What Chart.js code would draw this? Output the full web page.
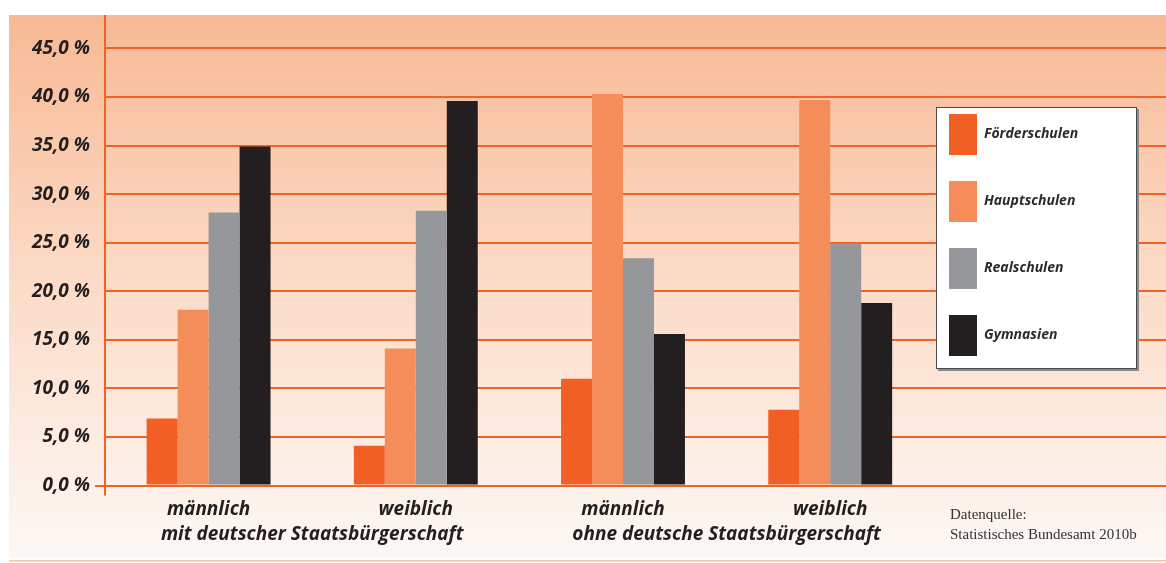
<!DOCTYPE html>
<html>
<head>
<meta charset="utf-8">
<script src="https://cdn.jsdelivr.net/npm/chart.js@4.4.1/dist/chart.umd.min.js"></script>
<style>
  html, body { margin: 0; padding: 0; background: #fff; }
  canvas { display: block; }
</style>
</head>
<body>
<canvas id="schoolChart" width="1166" height="563"></canvas>
<script>
// values (percent)
const categories = ['männlich', 'weiblich', 'männlich', 'weiblich', ''];
const groupLabels = ['mit deutscher Staatsbürgerschaft', 'ohne deutsche Staatsbürgerschaft'];
const seriesNames = ['Förderschulen', 'Hauptschulen', 'Realschulen', 'Gymnasien'];
const foerderschulen = [6.9, 4.1, 11.0, 7.8, null];
const hauptschulen = [18.1, 14.1, 40.3, 39.7, null];
const realschulen = [28.1, 28.3, 23.4, 24.9, null];
const gymnasien = [34.9, 39.6, 15.6, 18.8, null];
const sourceLines = ['Datenquelle:', 'Statistisches Bundesamt 2010b'];

const colors = ['#f15f24', '#f58d5b', '#96979a', '#231f20'];
const orange = '#f26125';
const font = '"Open Sans", Lato, sans-serif';

// background panel, axis stub, group captions, legend box and source note
const decorations = {
    id: 'decorations',
    beforeDraw(chart) {
        const c = chart.ctx;
        c.save();
        c.fillStyle = '#fff';
        c.fillRect(0, 0, chart.width, chart.height);
        const g = c.createLinearGradient(0, 15, 0, 558);
        g.addColorStop(0, '#f8b995');
        g.addColorStop(0.5, '#fcdcc8');
        g.addColorStop(1, '#fdf8f5');
        c.fillStyle = g;
        c.fillRect(9, 15, chart.width - 9, 543);
        c.fillStyle = '#f9c2a7';
        c.fillRect(9, 560, chart.width - 9, 1.5);
        c.restore();
    },
    beforeDatasetsDraw(chart) {
        // the grid runs on to the right edge of the panel
        const c = chart.ctx;
        const y = chart.scales.y;
        const area = chart.chartArea;
        c.save();
        c.strokeStyle = orange;
        c.lineWidth = 2;
        y.ticks.forEach(t => {
            const py = Math.round(y.getPixelForValue(t.value) - 1) + 1;
            c.beginPath();
            c.moveTo(area.right - 2, py);
            c.lineTo(chart.width, py);
            c.stroke();
        });
        c.restore();
    },
    afterDraw(chart) {
        const c = chart.ctx;
        const x = chart.scales.x;
        const area = chart.chartArea;
        c.save();
        // axis line runs a bit below zero
        c.strokeStyle = orange;
        c.lineWidth = 2;
        c.beginPath();
        c.moveTo(area.left, area.bottom);
        c.lineTo(area.left, area.bottom + 10);
        c.stroke();

        // second label row
        c.fillStyle = '#231f20';
        c.font = 'italic bold 19px ' + font;
        c.textAlign = 'center';
        c.textBaseline = 'middle';
        groupLabels.forEach((txt, i) => {
            const cx = (x.getPixelForValue(i * 2) + x.getPixelForValue(i * 2 + 1)) / 2;
            c.fillText(txt, cx, 535);
        });

        // legend box
        c.fillStyle = '#8a8a8a';
        c.fillRect(938, 109, 201, 262);
        c.fillStyle = '#fff';
        c.fillRect(936, 107, 201, 262);
        c.strokeStyle = '#4a4a4a';
        c.lineWidth = 1;
        c.strokeRect(936.5, 107.5, 200, 261);
        c.font = 'italic bold 14px ' + font;
        c.textAlign = 'left';
        chart.data.datasets.forEach((ds, i) => {
            const top = 114 + i * 67;
            c.fillStyle = ds.backgroundColor;
            c.fillRect(949, top, 28, 41);
            c.fillStyle = '#2b2b2b';
            c.fillText(ds.label, 984, top + 20.5);
        });

        // source note
        c.fillStyle = '#333';
        c.font = '15px "Liberation Serif", "DejaVu Serif", serif';
        c.fillText(sourceLines[0], 950, 515);
        c.fillText(sourceLines[1], 950, 535);
        c.restore();
    }
};

const ctx = document.getElementById('schoolChart').getContext('2d');
const schoolChart = new Chart(ctx, {
    type: 'bar',
    data: {
        labels: categories,
        datasets: [foerderschulen, hauptschulen, realschulen, gymnasien].map((data, i) => ({
            label: seriesNames[i],
            data: data,
            backgroundColor: colors[i],
            borderWidth: 0,
            categoryPercentage: 0.598,
            barPercentage: 1
        }))
    },
    options: {
        responsive: false,
        animation: false,
        layout: { padding: { left: 9, top: 15, right: 25, bottom: 0 } },
        plugins: {
            legend: { display: false },
            tooltip: { enabled: false }
        },
        scales: {
            x: {
                grid: { display: false },
                border: { display: false },
                ticks: {
                    padding: 5,
                    color: '#231f20',
                    font: { family: font, size: 19, weight: 'bold', style: 'italic' }
                },
                afterFit: axis => { axis.height = 77.5; }
            },
            y: {
                min: 0,
                max: 48.3,
                grid: {
                    color: orange,
                    lineWidth: 2,
                    tickLength: 10,
                    tickColor: c => (c.tick && c.tick.value === 0 ? orange : 'rgba(0,0,0,0)')
                },
                border: { display: true, color: orange, width: 2 },
                ticks: {
                    stepSize: 5,
                    includeBounds: false,
                    padding: 5,
                    color: '#231f20',
                    font: { family: font, size: 19, weight: 'bold', style: 'italic' },
                    callback: v => v.toFixed(1).replace('.', ',') + ' %'
                },
                afterFit: axis => { axis.width = 96; }
            }
        }
    },
    plugins: [decorations]
});
</script>
</body>
</html>
